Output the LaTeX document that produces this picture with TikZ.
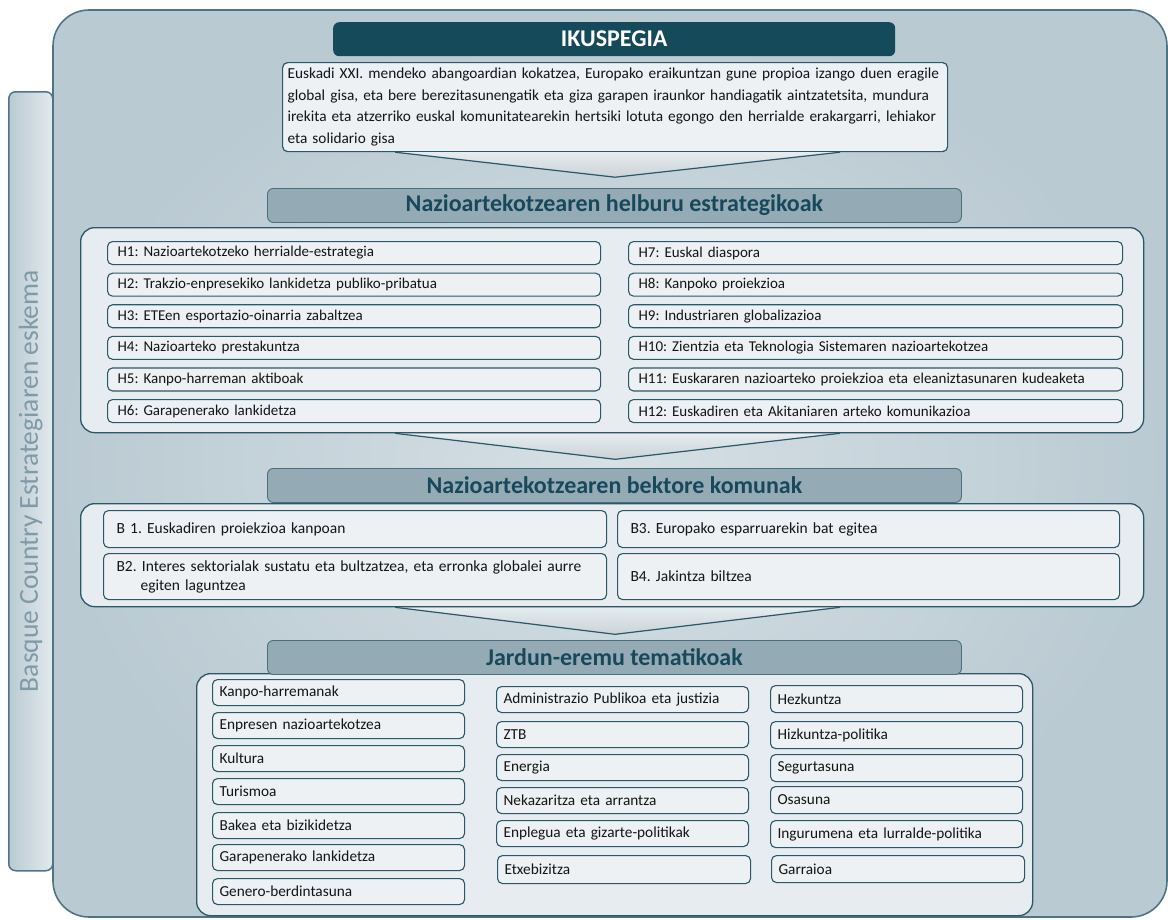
\documentclass[tikz,border=0pt]{standalone}
\usepackage{fontspec}
\setmainfont{Carlito}
\frenchspacing
\usetikzlibrary{calc}
\definecolor{bd}{HTML}{2B5868}
\definecolor{outbd}{HTML}{4E7585}
\definecolor{boxfill}{HTML}{EDF1F3}
\definecolor{pnlfill}{HTML}{E6ECEF}
\definecolor{hdrfill}{HTML}{94ABB5}
\definecolor{hdrbd}{HTML}{4A6F7D}
\definecolor{hdrtxt}{HTML}{17495A}
\definecolor{dark}{HTML}{144A59}
\definecolor{bgin}{HTML}{D6E0E5}
\definecolor{bgout}{HTML}{BACAD2}
\definecolor{bandtxt}{HTML}{7F9BA8}
\definecolor{txt}{HTML}{141414}
% \ibox[options]{name}{x}{y}{width}{height}{xsep}{text}
\newcommand{\ibox}[8][]{%
  \pgfmathsetlengthmacro\tw{#5-2*#7}%
  \node[ibox, inner xsep=#7pt, minimum width=#5, minimum height=#6, text width=\tw, #1] (#2) at (#3,#4) {#8};}
\begin{document}
\begin{tikzpicture}[x=1pt,y=-1pt,
  ibox/.style={draw=bd, fill=boxfill, line width=1.1pt, rounded corners=5pt, anchor=north west,
    inner ysep=0pt, align=left, text=txt, font=\fontsize{15}{18}\selectfont},
  hdr/.style={draw=hdrbd, line width=0.9pt, fill=hdrfill, rounded corners=6pt, anchor=north west,
    inner sep=0pt, text=hdrtxt, font=\bfseries\fontsize{24}{28}\selectfont},
  pnl/.style={draw=bd, line width=1.3pt, fill=pnlfill, rounded corners=14pt, anchor=north west, inner sep=0pt},
  chev/.style={top color=pnlfill, bottom color=bgout!90!black!60},
  chevline/.style={draw=bd, line width=1.2pt},
]
\useasboundingbox (0,0) rectangle (1168,919);
% outer panel
\draw[outbd, line width=1.6pt, rounded corners=36pt, inner color=bgin, outer color=bgout]
  (53,10) rectangle (1167,917);
% left band
\node[draw=outbd, line width=1.5pt, rounded corners=7pt, left color=bgout, right color=bgin!70!white,
  minimum width=44, minimum height=779, anchor=north west, inner sep=0pt] (band) at (8,91) {};
\node[rotate=90, text=bandtxt, font=\fontsize{27.5}{32}\selectfont] (bandtext) at (band.center) {Basque Country Estrategiaren eskema};
% IKUSPEGIA
\node[fill=dark, rounded corners=6pt, anchor=north west, minimum width=562, minimum height=34, inner sep=0pt,
  text=white, font=\bfseries\fontsize{24}{28}\selectfont] (ikus) at (333,22) {IKUSPEGIA};
% vision text
\ibox[line width=1.2pt, font=\fontsize{15.3}{21.5}\selectfont]{vision}{282}{62}{665}{89}{5}
  {Euskadi XXI. mendeko abangoardian kokatzea, Europako eraikuntzan gune propioa izango duen eragile\\
   global gisa, eta bere berezitasunengatik eta giza garapen iraunkor handiagatik aintzatetsita, mundura\\
   irekita eta atzerriko euskal komunitatearekin hertsiki lotuta egongo den herrialde erakargarri, lehiakor\\
   eta solidario gisa}
% chevron 1
\coordinate (c1l) at ($(vision.south)+(-220,0)$);
\coordinate (c1r) at ($(vision.south)+(225,0)$);
\coordinate (c1p) at ($(vision.south)+(0,25)$);
\fill[chev] (c1l) -- (c1p) -- (c1r) -- cycle;
\draw[chevline] (c1l) -- (c1p) -- (c1r);
% header 2
\node[hdr, minimum width=694, minimum height=34] (hdr1) at (267,188) {Nazioartekotzearen helburu estrategikoak};
% H panel
\node[pnl, minimum width=1063, minimum height=205] (hpanel) at (80,227) {};
\foreach \n/\t [count=\i from 0] in {h1/{H1: Nazioartekotzeko herrialde-estrategia},
  h2/{H2: Trakzio-enpresekiko lankidetza publiko-pribatua},
  h3/{H3: ETEen esportazio-oinarria zabaltzea},
  h4/{H4: Nazioarteko prestakuntza},
  h5/{H5: Kanpo-harreman aktiboak},
  h6/{H6: Garapenerako lankidetza}}{
  \ibox{\n}{107}{241+31.6*\i}{493}{23}{10}{\t}
}
\foreach \n/\t [count=\i from 0] in {h7/{H7: Euskal diaspora},
  h8/{H8: Kanpoko proiekzioa},
  h9/{H9: Industriaren globalizazioa},
  h10/{H10: Zientzia eta Teknologia Sistemaren nazioartekotzea},
  h11/{H11: Euskararen nazioarteko proiekzioa eta eleaniztasunaren kudeaketa},
  h12/{H12: Euskadiren eta Akitaniaren arteko komunikazioa}}{
  \ibox{\n}{628}{241+31.6*\i}{494}{23}{10}{\t}
}
% chevron 2
\coordinate (c2l) at ($(hpanel.south)+(-217,0)$);
\coordinate (c2r) at ($(hpanel.south)+(228,0)$);
\coordinate (c2p) at ($(hpanel.south)+(3,26)$);
\fill[chev] (c2l) -- (c2p) -- (c2r) -- cycle;
\draw[chevline] (c2l) -- (c2p) -- (c2r);
% header 3
\node[hdr, minimum width=694, minimum height=34] (hdr2) at (267,468) {Nazioartekotzearen bektore komunak};
% B panel
\node[pnl, minimum width=1063, minimum height=103] (bpanel) at (80,503) {};
\ibox[font=\fontsize{15.5}{19}\selectfont]{b1}{103}{510}{503}{37}{13}{B 1. Euskadiren proiekzioa kanpoan}
\ibox[font=\fontsize{15.5}{19}\selectfont]{b2}{103}{553}{503}{46}{13}{B2. Interes sektorialak sustatu eta bultzatzea, eta erronka globalei aurre\\\hspace*{24pt}egiten laguntzea}
\ibox[font=\fontsize{15.5}{19}\selectfont]{b3}{617}{510}{502}{37}{13}{B3. Europako esparruarekin bat egitea}
\ibox[font=\fontsize{15.5}{19}\selectfont]{b4}{617}{553}{502}{46}{13}{B4. Jakintza biltzea}
% chevron 3
\coordinate (c3l) at ($(bpanel.south)+(-217,0)$);
\coordinate (c3r) at ($(bpanel.south)+(228,0)$);
\coordinate (c3p) at ($(bpanel.south)+(3,27)$);
\fill[chev] (c3l) -- (c3p) -- (c3r) -- cycle;
\draw[chevline] (c3l) -- (c3p) -- (c3r);
% J panel
\node[pnl, minimum width=836, minimum height=242] (jpanel) at (196,673) {};
% header 4
\node[hdr, minimum width=694, minimum height=34] (hdr3) at (267,640) {Jardun-eremu tematikoak};
\foreach \n/\y/\t in {j1/679/Kanpo-harremanak, j2/712/Enpresen nazioartekotzea, j3/745/Kultura,
  j4/778/Turismoa, j5/812/Bakea eta bizikidetza, j6/844/Garapenerako lankidetza, j7/878/Genero-berdintasuna}{
  \ibox[font=\fontsize{15.3}{18}\selectfont]{\n}{212}{\y}{252}{26}{7}{\t}
}
\foreach \n/\y/\t in {k1/686/Administrazio Publikoa eta justizia, k2/721/ZTB, k3/754/Energia,
  k4/787/Nekazaritza eta arrantza, k5/820/Enplegua eta gizarte-politikak}{
  \ibox[font=\fontsize{15.3}{18}\selectfont]{\n}{496}{\y}{252}{26}{7}{\t}
}
\ibox[font=\fontsize{15.3}{18}\selectfont]{k6}{497}{855}{253}{28}{7}{Etxebizitza}
\foreach \n/\y/\t in {m1/685/Hezkuntza, m2/721/Hizkuntza-politika, m3/754/Segurtasuna,
  m4/786/Osasuna, m5/820/Ingurumena eta lurralde-politika}{
  \ibox[font=\fontsize{15.3}{18}\selectfont]{\n}{770}{\y}{252}{27}{7}{\t}
}
\ibox[font=\fontsize{15.3}{18}\selectfont]{m6}{771}{855}{253}{27}{7}{Garraioa}
\end{tikzpicture}
\end{document}
